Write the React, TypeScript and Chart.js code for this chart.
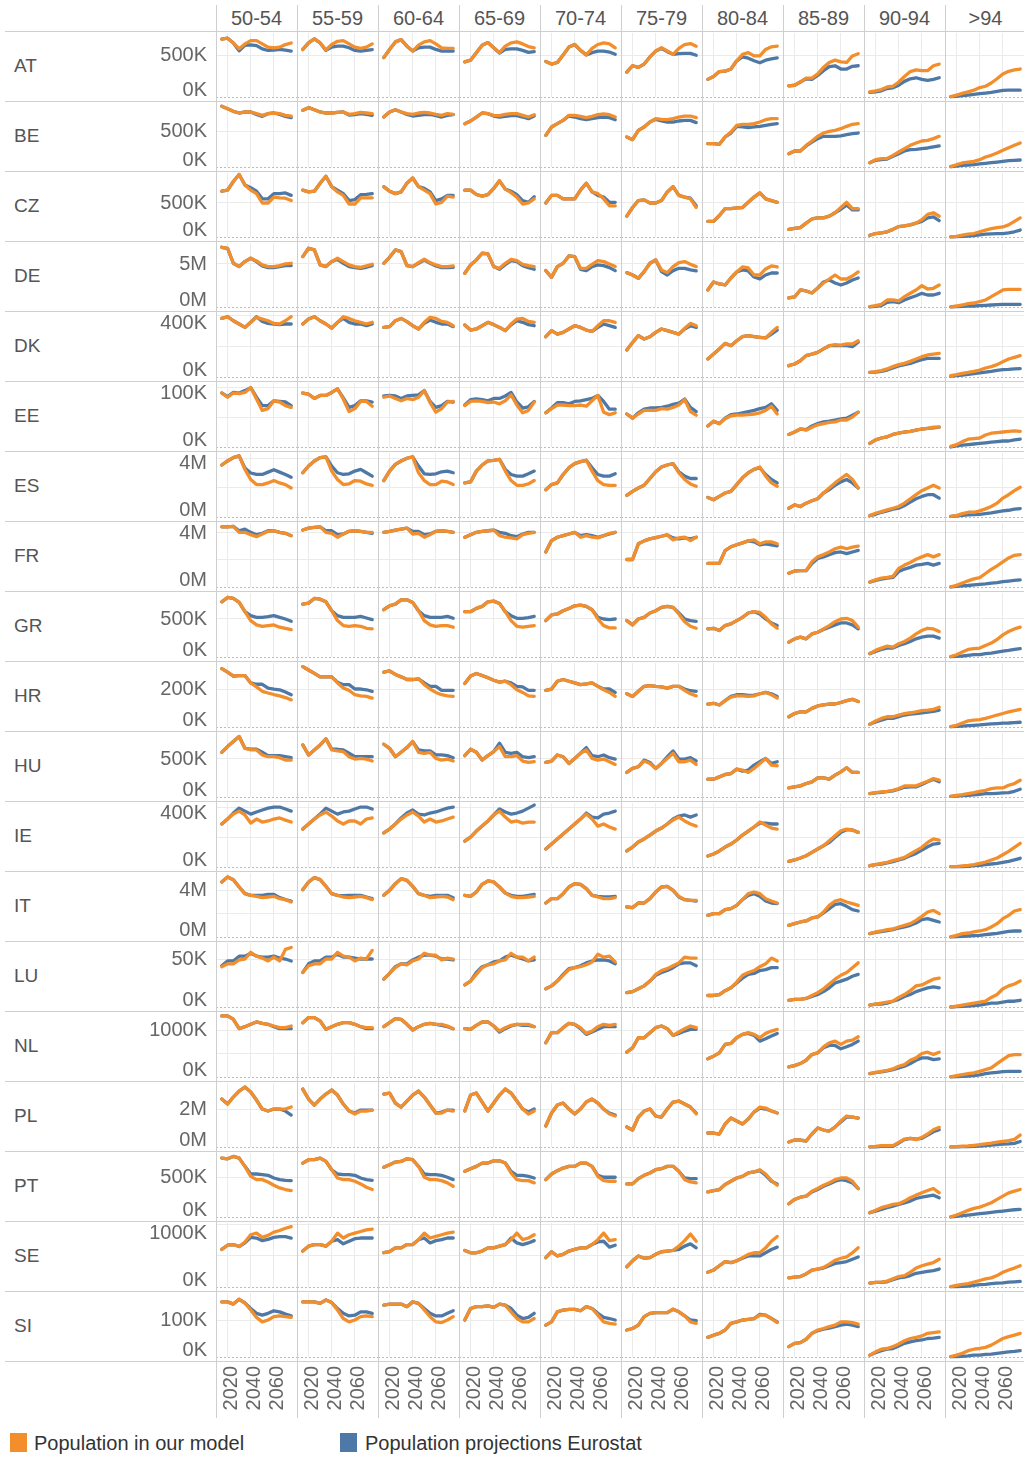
import React, { useEffect, useRef } from 'react';
import { Chart, registerables } from 'chart.js';

Chart.register(...registerables);

// ---------------- data (population, thousands) ----------------
const years = [2015, 2020, 2025, 2030, 2035, 2040, 2045, 2050, 2055, 2060, 2065, 2070, 2075];
const xTickYears = [2020, 2040, 2060];
const ageGroups = ['50-54', '55-59', '60-64', '65-69', '70-74', '75-79', '80-84', '85-89', '90-94', '>94'];
const countries = ['AT', 'BE', 'CZ', 'DE', 'DK', 'EE', 'ES', 'FR', 'GR', 'HR', 'HU', 'IE', 'IT', 'LU', 'NL', 'PL', 'PT', 'SE', 'SI'];
const seriesNames = ['Population in our model', 'Population projections Eurostat'];
const axisMax = [762, 889, 941, 7440, 413, 106.7, 4410, 4740, 842, 337, 842, 427, 5490, 66.7, 1362, 3370, 820, 1031, 173];
const axisStep = [500, 500, 500, 5000, 200, 50, 2000, 2000, 500, 200, 500, 200, 2000, 50, 500, 2000, 500, 500, 100];
const axisUnit = ['K', 'K', 'K', 'M', 'K', 'K', 'M', 'M', 'K', 'K', 'K', 'K', 'M', 'K', 'K', 'M', 'K', 'K', 'K'];

const AT_model = [
  [690, 700, 643, 574, 632, 671, 671, 632, 593, 585, 593, 624, 643],
  [566, 644, 691, 644, 559, 625, 663, 671, 632, 594, 578, 594, 632],
  [469, 566, 656, 683, 605, 547, 617, 656, 671, 632, 586, 578, 578],
  [419, 438, 528, 617, 648, 586, 528, 605, 644, 656, 632, 601, 586],
  [423, 392, 411, 501, 594, 625, 555, 501, 578, 625, 644, 632, 586],
  [295, 372, 353, 392, 477, 547, 586, 547, 508, 578, 625, 636, 605],
  [210, 244, 303, 307, 334, 431, 508, 528, 489, 489, 566, 598, 605],
  [132, 140, 178, 225, 225, 276, 353, 411, 439, 419, 411, 489, 516],
  [62, 74, 89, 120, 128, 178, 244, 303, 322, 314, 314, 372, 392],
  [4, 23, 43, 62, 81, 112, 128, 167, 217, 275, 306, 322, 333],
];
const AT_eurostat = [
  [690, 700, 643, 550, 616, 620, 612, 573, 554, 558, 566, 558, 547],
  [566, 644, 691, 644, 555, 594, 605, 605, 586, 555, 547, 555, 563],
  [469, 566, 656, 683, 605, 547, 586, 594, 594, 566, 547, 547, 547],
  [419, 438, 528, 617, 648, 586, 524, 566, 574, 574, 555, 532, 539],
  [423, 392, 411, 501, 594, 625, 555, 501, 528, 547, 547, 535, 508],
  [295, 372, 353, 392, 477, 547, 578, 540, 508, 516, 520, 520, 497],
  [210, 244, 303, 307, 334, 431, 477, 462, 431, 407, 438, 454, 465],
  [132, 140, 178, 217, 209, 256, 314, 361, 372, 333, 333, 365, 372],
  [54, 62, 74, 101, 109, 140, 186, 217, 229, 209, 198, 209, 229],
  [4, 8, 16, 23, 31, 39, 47, 54, 66, 78, 81, 81, 81],
];
const BE_model = [
  [843, 810, 773, 750, 764, 764, 741, 718, 741, 750, 741, 718, 708],
  [787, 824, 796, 764, 750, 750, 759, 764, 731, 741, 759, 750, 741],
  [694, 764, 796, 764, 741, 731, 750, 759, 750, 731, 718, 741, 731],
  [602, 639, 694, 750, 741, 718, 713, 731, 741, 741, 718, 694, 727],
  [440, 556, 602, 648, 718, 718, 704, 685, 704, 727, 736, 727, 694],
  [417, 380, 509, 556, 625, 671, 662, 657, 671, 694, 708, 708, 685],
  [324, 324, 315, 417, 486, 579, 593, 593, 602, 625, 657, 671, 671],
  [185, 222, 222, 301, 361, 426, 472, 495, 509, 532, 565, 593, 602],
  [60, 102, 116, 120, 162, 208, 255, 301, 333, 361, 370, 394, 426],
  [5, 32, 56, 69, 79, 102, 139, 162, 194, 231, 268, 301, 333],
];
const BE_eurostat = [
  [843, 810, 773, 750, 764, 764, 731, 704, 741, 750, 731, 704, 685],
  [787, 824, 796, 764, 750, 750, 759, 764, 722, 727, 741, 731, 718],
  [694, 764, 796, 764, 731, 708, 718, 727, 731, 713, 694, 718, 727],
  [602, 639, 694, 750, 741, 708, 694, 704, 713, 713, 694, 671, 708],
  [440, 556, 602, 648, 708, 694, 671, 657, 671, 685, 694, 685, 657],
  [417, 380, 509, 556, 625, 662, 639, 625, 625, 639, 648, 648, 616],
  [324, 324, 315, 417, 472, 565, 556, 546, 556, 565, 579, 593, 602],
  [185, 222, 222, 292, 347, 394, 426, 426, 426, 431, 449, 463, 472],
  [60, 93, 102, 111, 148, 185, 222, 241, 245, 255, 264, 278, 292],
  [5, 14, 23, 28, 32, 42, 51, 60, 69, 79, 88, 93, 97],
];
const CZ_model = [
  [673, 689, 816, 918, 765, 689, 638, 500, 500, 587, 576, 571, 536],
  [689, 663, 673, 791, 893, 740, 663, 612, 485, 485, 576, 576, 576],
  [740, 673, 638, 663, 791, 867, 740, 689, 638, 485, 510, 602, 587],
  [689, 689, 625, 602, 622, 714, 826, 704, 653, 587, 485, 500, 561],
  [500, 612, 612, 561, 561, 561, 689, 791, 663, 638, 561, 459, 459],
  [306, 434, 536, 546, 500, 500, 536, 663, 740, 612, 587, 561, 434],
  [230, 230, 316, 418, 418, 429, 434, 510, 587, 648, 561, 536, 510],
  [112, 128, 138, 204, 265, 281, 281, 306, 357, 434, 510, 418, 418],
  [26, 51, 61, 77, 112, 153, 163, 179, 204, 255, 332, 357, 306],
  [3, 10, 26, 41, 51, 77, 102, 122, 138, 148, 179, 230, 281],
];
const CZ_eurostat = [
  [673, 689, 816, 918, 765, 724, 673, 561, 561, 638, 638, 648, 612],
  [689, 663, 673, 791, 893, 740, 689, 638, 536, 551, 622, 627, 638],
  [740, 673, 638, 663, 791, 867, 740, 714, 663, 536, 561, 612, 612],
  [689, 689, 625, 602, 622, 714, 826, 704, 673, 622, 536, 510, 592],
  [500, 612, 612, 561, 561, 561, 689, 791, 663, 612, 587, 510, 510],
  [306, 434, 536, 546, 500, 500, 536, 663, 740, 612, 587, 571, 459],
  [230, 230, 316, 418, 418, 429, 434, 510, 587, 648, 561, 536, 510],
  [112, 128, 138, 204, 265, 281, 281, 306, 357, 408, 469, 398, 398],
  [26, 51, 61, 77, 112, 153, 163, 179, 204, 230, 281, 296, 240],
  [3, 5, 10, 15, 20, 31, 41, 46, 51, 51, 61, 77, 102],
];
const DE_model = [
  [6945, 6829, 5083, 4695, 5277, 5665, 5354, 4889, 4695, 4695, 4811, 5005, 5083],
  [5859, 6829, 6635, 4889, 4695, 5277, 5665, 5277, 4889, 4695, 4617, 4772, 4966],
  [5083, 5781, 6635, 6441, 4811, 4695, 5160, 5548, 5160, 4889, 4695, 4695, 4772],
  [3919, 4889, 5470, 6247, 6169, 4695, 4500, 5083, 5548, 5393, 4966, 4811, 4695],
  [4229, 3453, 4695, 5083, 5936, 5859, 4500, 4500, 4966, 5393, 5277, 5005, 4695],
  [3996, 3725, 3337, 4113, 5083, 5470, 4307, 3996, 4695, 5160, 5277, 4966, 4695],
  [1977, 2908, 2675, 2559, 3373, 4071, 4652, 4536, 3722, 3722, 4420, 4768, 4652],
  [1047, 1163, 1977, 1861, 1628, 2210, 2791, 3256, 3722, 3256, 3256, 3605, 4071],
  [35, 151, 314, 814, 814, 698, 1198, 1593, 1977, 2477, 2093, 2175, 2559],
  [20, 116, 233, 388, 466, 621, 815, 1203, 1591, 1979, 2056, 2056, 2056],
];
const DE_eurostat = [
  [6945, 6829, 5083, 4695, 5277, 5665, 5277, 4772, 4578, 4578, 4695, 4811, 4811],
  [5859, 6829, 6635, 4889, 4695, 5277, 5548, 5083, 4695, 4578, 4500, 4617, 4811],
  [5083, 5781, 6635, 6441, 4811, 4695, 5083, 5470, 5083, 4772, 4578, 4578, 4617],
  [3919, 4889, 5470, 6247, 6169, 4695, 4384, 4927, 5393, 5277, 4811, 4578, 4384],
  [4229, 3453, 4695, 5083, 5936, 5859, 4384, 4229, 4695, 4889, 4811, 4578, 4229],
  [3996, 3725, 3337, 4113, 5083, 5470, 4113, 3725, 4229, 4500, 4500, 4307, 4190],
  [1977, 2908, 2675, 2559, 3373, 4071, 4303, 4187, 3489, 3256, 3722, 3954, 3954],
  [1047, 1163, 1977, 1861, 1628, 2210, 2908, 3140, 2791, 2559, 2791, 3140, 3373],
  [20, 81, 151, 547, 616, 500, 814, 1082, 1314, 1593, 1396, 1396, 1593],
  [20, 39, 78, 116, 116, 155, 194, 233, 272, 310, 310, 310, 310],
];
const DK_model = [
  [378, 389, 363, 342, 320, 353, 385, 374, 363, 346, 342, 363, 389],
  [342, 374, 389, 363, 342, 316, 353, 389, 378, 363, 353, 342, 353],
  [320, 325, 363, 378, 357, 331, 310, 353, 385, 378, 359, 353, 331],
  [336, 303, 310, 331, 353, 338, 320, 299, 342, 374, 378, 359, 353],
  [260, 299, 277, 288, 310, 331, 320, 303, 294, 331, 363, 363, 353],
  [174, 223, 267, 245, 260, 288, 310, 299, 288, 277, 314, 346, 331],
  [116, 148, 181, 217, 202, 234, 260, 267, 260, 256, 252, 288, 320],
  [73, 84, 105, 138, 148, 159, 181, 202, 209, 206, 213, 213, 234],
  [30, 34, 41, 52, 67, 80, 88, 101, 116, 131, 142, 148, 153],
  [9, 15, 24, 30, 37, 45, 58, 67, 80, 99, 116, 127, 138],
];
const DK_eurostat = [
  [378, 389, 363, 342, 320, 353, 389, 359, 346, 342, 338, 342, 342],
  [342, 374, 389, 363, 342, 316, 353, 378, 353, 342, 342, 331, 342],
  [320, 325, 363, 378, 357, 331, 310, 346, 368, 353, 342, 342, 325],
  [336, 303, 310, 331, 353, 338, 320, 299, 336, 363, 353, 338, 331],
  [260, 299, 277, 288, 310, 331, 320, 303, 294, 320, 342, 331, 320],
  [174, 223, 267, 245, 260, 288, 310, 299, 288, 277, 310, 331, 320],
  [116, 148, 181, 217, 202, 234, 260, 267, 260, 256, 252, 277, 303],
  [73, 84, 105, 138, 148, 159, 181, 202, 202, 202, 202, 196, 224],
  [30, 32, 37, 45, 58, 71, 80, 88, 101, 112, 120, 120, 120],
  [6, 9, 13, 17, 22, 26, 32, 37, 43, 47, 49, 52, 54],
];
const EE_model = [
  [90, 83, 90, 89, 91, 99, 80, 61, 64, 77, 75, 69, 66],
  [90, 88, 81, 86, 86, 91, 97, 80, 59, 64, 76, 76, 68],
  [83, 85, 81, 77, 81, 79, 83, 94, 74, 58, 64, 75, 76],
  [69, 76, 77, 76, 74, 75, 72, 77, 87, 70, 57, 61, 75],
  [57, 64, 70, 70, 69, 69, 70, 68, 77, 86, 58, 54, 57],
  [55, 48, 55, 61, 61, 61, 64, 63, 66, 70, 79, 59, 53],
  [35, 43, 39, 47, 52, 53, 53, 54, 55, 57, 61, 68, 55],
  [21, 25, 30, 28, 33, 37, 39, 41, 42, 45, 45, 50, 58],
  [6, 12, 15, 17, 21, 23, 25, 26, 28, 30, 31, 33, 33],
  [1, 4, 9, 13, 14, 15, 20, 23, 24, 25, 26, 27, 26],
];
const EE_eurostat = [
  [90, 84, 91, 90, 94, 99, 83, 69, 69, 77, 76, 75, 69],
  [90, 88, 81, 86, 86, 91, 97, 82, 66, 69, 77, 77, 75],
  [85, 86, 85, 81, 85, 86, 87, 94, 76, 66, 69, 76, 75],
  [70, 79, 80, 79, 77, 81, 81, 85, 91, 75, 65, 67, 76],
  [57, 65, 74, 74, 72, 76, 77, 79, 81, 86, 76, 63, 63],
  [55, 48, 57, 63, 65, 65, 66, 68, 71, 73, 80, 66, 59],
  [35, 43, 39, 48, 54, 55, 57, 59, 61, 64, 66, 72, 61],
  [21, 25, 30, 29, 35, 39, 42, 43, 45, 47, 48, 53, 58],
  [6, 12, 15, 17, 21, 23, 25, 26, 28, 30, 31, 32, 33],
  [0, 2, 3, 4, 5, 6, 7, 8, 9, 10, 10, 12, 13],
];
const ES_model = [
  [3582, 3861, 4094, 4210, 3280, 2582, 2233, 2233, 2349, 2512, 2349, 2233, 2000],
  [3047, 3512, 3861, 4094, 4140, 3163, 2582, 2233, 2279, 2512, 2466, 2279, 2186],
  [2512, 3163, 3629, 3861, 4047, 4140, 3047, 2512, 2233, 2233, 2466, 2419, 2233],
  [2349, 2419, 3163, 3582, 3861, 3908, 3977, 3163, 2512, 2186, 2186, 2279, 2512],
  [1884, 2233, 2349, 2931, 3396, 3675, 3815, 3908, 3163, 2512, 2233, 2186, 2186],
  [1489, 1768, 2000, 2186, 2652, 3117, 3443, 3582, 3675, 3047, 2582, 2279, 2117],
  [1349, 1187, 1419, 1652, 1768, 2233, 2698, 3047, 3280, 3443, 2815, 2349, 2117],
  [605, 837, 721, 954, 1117, 1256, 1652, 2000, 2349, 2652, 2931, 2582, 2000],
  [93, 256, 372, 488, 605, 721, 954, 1256, 1535, 1814, 2000, 2186, 2000],
  [47, 93, 233, 326, 326, 419, 558, 721, 954, 1303, 1535, 1814, 2047],
];
const ES_eurostat = [
  [3582, 3861, 4094, 4210, 3373, 3032, 2931, 2931, 3094, 3257, 3094, 2931, 2745],
  [3047, 3512, 3861, 4094, 4140, 3512, 3047, 2931, 2977, 3163, 3280, 3047, 2815],
  [2512, 3163, 3629, 3861, 4047, 4140, 3512, 2977, 2931, 2977, 3117, 3163, 3047],
  [2349, 2419, 3163, 3582, 3861, 3908, 3977, 3280, 2931, 2815, 2815, 2977, 3163],
  [1884, 2233, 2349, 2931, 3396, 3675, 3815, 3908, 3396, 2931, 2815, 2815, 2977],
  [1489, 1768, 2000, 2186, 2652, 3117, 3443, 3582, 3675, 3117, 2815, 2652, 2652],
  [1349, 1187, 1419, 1652, 1768, 2233, 2698, 3047, 3280, 3396, 2931, 2582, 2349],
  [605, 837, 721, 954, 1117, 1256, 1652, 1884, 2186, 2419, 2582, 2349, 2000],
  [93, 186, 326, 419, 535, 605, 791, 1024, 1256, 1419, 1535, 1535, 1303],
  [47, 70, 116, 140, 163, 186, 233, 279, 349, 419, 465, 535, 582],
];
const FR_model = [
  [4457, 4457, 4486, 4049, 4049, 3875, 3730, 3926, 4122, 4166, 4049, 3977, 3802],
  [4217, 4362, 4413, 4457, 4049, 3977, 3686, 3926, 4122, 4166, 4122, 4049, 4049],
  [4049, 4122, 4217, 4289, 4362, 3926, 3977, 3686, 3875, 4122, 4166, 4122, 4049],
  [3686, 3875, 4049, 4122, 4166, 4217, 3802, 3686, 3635, 3562, 3875, 3977, 4049],
  [2595, 3439, 3686, 3802, 3926, 4049, 3686, 3802, 3686, 3635, 3802, 3977, 4049],
  [2036, 2036, 3199, 3417, 3562, 3657, 3758, 3853, 3490, 3635, 3686, 3439, 3686],
  [1745, 1745, 1745, 2690, 2981, 3126, 3272, 3417, 3490, 3199, 3344, 3344, 3199],
  [1018, 1185, 1214, 1214, 1868, 2232, 2399, 2595, 2835, 2959, 2835, 2959, 3032],
  [364, 531, 654, 705, 778, 1381, 1621, 1818, 2057, 2232, 2399, 2232, 2399],
  [10, 120, 300, 450, 600, 700, 1000, 1300, 1570, 1860, 2150, 2350, 2400],
];
const FR_eurostat = [
  [4457, 4457, 4486, 4166, 4289, 4049, 3875, 3977, 4166, 4166, 4049, 3977, 3802],
  [4217, 4362, 4413, 4457, 4166, 4166, 3875, 3926, 4122, 4166, 4122, 4049, 3977],
  [4049, 4122, 4217, 4289, 4362, 4122, 4122, 3875, 3926, 4122, 4166, 4122, 4049],
  [3686, 3875, 4049, 4122, 4166, 4217, 4049, 3977, 3802, 3730, 3926, 4049, 4049],
  [2595, 3439, 3686, 3802, 3926, 4049, 3802, 3875, 3802, 3686, 3802, 3926, 4049],
  [2036, 2036, 3199, 3417, 3562, 3657, 3758, 3853, 3635, 3562, 3635, 3562, 3686],
  [1745, 1745, 1745, 2690, 2981, 3126, 3272, 3417, 3344, 3126, 3199, 3126, 3054],
  [1018, 1185, 1214, 1214, 1745, 2108, 2232, 2399, 2545, 2595, 2472, 2595, 2712],
  [364, 487, 582, 654, 705, 1141, 1330, 1454, 1621, 1672, 1745, 1621, 1745],
  [10, 40, 80, 110, 150, 190, 230, 280, 330, 390, 440, 490, 530],
];
const GR_model = [
  [726, 783, 770, 718, 596, 479, 422, 404, 413, 422, 392, 378, 361],
  [696, 709, 770, 761, 726, 609, 479, 413, 404, 413, 404, 378, 370],
  [622, 674, 696, 752, 752, 718, 609, 479, 422, 404, 413, 413, 392],
  [596, 596, 639, 666, 726, 735, 705, 596, 479, 404, 392, 404, 413],
  [479, 553, 566, 609, 639, 674, 683, 666, 622, 500, 413, 383, 383],
  [479, 422, 500, 522, 579, 609, 653, 666, 653, 566, 465, 404, 378],
  [370, 378, 348, 413, 435, 479, 522, 579, 596, 587, 522, 435, 378],
  [196, 239, 261, 239, 304, 326, 370, 413, 465, 500, 509, 479, 392],
  [44, 87, 117, 143, 130, 174, 204, 248, 304, 348, 378, 370, 335],
  [5, 30, 65, 100, 109, 117, 152, 183, 230, 291, 335, 370, 392],
];
const GR_eurostat = [
  [726, 783, 770, 718, 596, 544, 522, 522, 530, 544, 522, 500, 470],
  [696, 709, 770, 761, 726, 609, 544, 522, 522, 522, 535, 513, 492],
  [622, 674, 696, 752, 752, 718, 609, 544, 522, 522, 522, 535, 509],
  [596, 596, 639, 666, 726, 735, 705, 596, 544, 509, 509, 518, 535],
  [479, 553, 566, 609, 639, 674, 683, 666, 622, 522, 500, 492, 500],
  [479, 422, 500, 522, 579, 609, 653, 666, 653, 579, 500, 478, 470],
  [370, 378, 348, 413, 435, 479, 522, 579, 596, 566, 500, 448, 413],
  [196, 239, 261, 239, 304, 326, 361, 392, 422, 448, 448, 422, 370],
  [44, 74, 100, 117, 117, 152, 174, 204, 239, 261, 274, 274, 248],
  [5, 9, 13, 22, 30, 30, 44, 52, 65, 78, 87, 100, 109],
];
const HR_model = [
  [307, 289, 268, 271, 271, 232, 211, 188, 179, 171, 164, 155, 143],
  [318, 300, 282, 264, 264, 264, 232, 205, 193, 170, 164, 161, 152],
  [289, 295, 277, 264, 250, 250, 254, 223, 200, 182, 170, 164, 161],
  [229, 268, 282, 271, 259, 246, 236, 241, 223, 196, 182, 164, 161],
  [193, 200, 241, 250, 241, 232, 223, 227, 232, 214, 196, 182, 161],
  [175, 161, 188, 214, 218, 214, 211, 205, 214, 214, 193, 175, 164],
  [121, 125, 116, 139, 157, 164, 164, 161, 164, 175, 182, 170, 152],
  [54, 71, 80, 80, 98, 111, 116, 121, 121, 129, 139, 146, 134],
  [14, 32, 45, 54, 54, 63, 71, 75, 80, 86, 89, 93, 104],
  [2, 9, 21, 32, 36, 39, 45, 54, 63, 71, 80, 86, 93],
];
const HR_eurostat = [
  [307, 289, 268, 271, 271, 232, 225, 225, 205, 200, 196, 184, 170],
  [318, 300, 282, 264, 264, 264, 236, 223, 223, 200, 200, 196, 188],
  [289, 295, 277, 264, 250, 250, 254, 232, 214, 214, 193, 193, 193],
  [229, 268, 282, 271, 259, 246, 236, 241, 232, 214, 211, 193, 193],
  [193, 200, 241, 250, 241, 232, 223, 227, 232, 214, 200, 200, 182],
  [175, 161, 188, 214, 218, 214, 211, 205, 214, 214, 200, 191, 188],
  [121, 125, 116, 139, 161, 170, 170, 166, 168, 175, 182, 175, 161],
  [54, 71, 80, 80, 98, 111, 116, 121, 121, 129, 139, 146, 134],
  [14, 27, 36, 45, 45, 54, 63, 68, 71, 75, 79, 82, 89],
  [2, 4, 5, 7, 9, 11, 14, 16, 18, 20, 21, 23, 25],
];
const HU_model = [
  [588, 663, 729, 796, 641, 619, 619, 553, 530, 530, 517, 486, 486],
  [685, 553, 619, 685, 765, 619, 606, 597, 530, 499, 508, 499, 473],
  [694, 641, 530, 588, 650, 729, 588, 575, 588, 508, 486, 499, 473],
  [544, 628, 588, 486, 544, 597, 663, 530, 530, 544, 473, 455, 464],
  [455, 473, 553, 530, 442, 508, 575, 619, 508, 486, 499, 464, 429],
  [323, 376, 398, 473, 442, 376, 442, 508, 575, 464, 464, 486, 429],
  [234, 234, 265, 296, 309, 367, 354, 323, 376, 442, 508, 420, 411],
  [119, 133, 146, 177, 199, 252, 252, 234, 287, 331, 385, 323, 323],
  [44, 57, 66, 75, 88, 111, 146, 146, 146, 177, 208, 243, 221],
  [9, 22, 31, 44, 57, 75, 88, 111, 119, 119, 155, 177, 221],
];
const HU_eurostat = [
  [588, 663, 729, 796, 641, 630, 630, 588, 544, 544, 544, 530, 517],
  [685, 553, 619, 685, 765, 630, 628, 619, 575, 530, 530, 530, 530],
  [694, 641, 530, 588, 650, 729, 619, 606, 606, 553, 553, 544, 517],
  [544, 628, 588, 486, 544, 597, 707, 588, 575, 588, 530, 517, 530],
  [455, 473, 553, 530, 442, 508, 575, 650, 544, 530, 553, 517, 499],
  [323, 376, 398, 486, 455, 376, 442, 530, 606, 499, 499, 517, 473],
  [234, 234, 265, 296, 309, 367, 341, 354, 420, 464, 508, 442, 464],
  [119, 133, 146, 177, 199, 252, 252, 234, 287, 331, 385, 323, 323],
  [44, 53, 62, 71, 80, 102, 128, 133, 133, 164, 199, 234, 199],
  [9, 13, 18, 22, 27, 35, 44, 44, 49, 53, 57, 75, 102],
];
const IE_model = [
  [287, 320, 353, 373, 347, 293, 320, 300, 307, 320, 327, 313, 300],
  [253, 287, 320, 347, 367, 340, 307, 287, 307, 307, 287, 320, 327],
  [227, 253, 287, 320, 347, 367, 340, 300, 320, 300, 307, 320, 333],
  [173, 200, 240, 273, 307, 347, 373, 333, 300, 307, 293, 300, 300],
  [120, 153, 187, 220, 253, 287, 320, 353, 320, 273, 287, 267, 253],
  [107, 133, 167, 187, 213, 240, 260, 287, 313, 333, 307, 287, 273],
  [73, 87, 107, 133, 153, 180, 213, 240, 267, 300, 280, 260, 253],
  [38, 47, 60, 75, 98, 120, 142, 175, 209, 242, 253, 247, 231],
  [9, 16, 24, 31, 42, 53, 64, 87, 109, 131, 164, 187, 180],
  [2, 2, 7, 11, 16, 24, 33, 47, 60, 82, 104, 131, 158],
];
const IE_eurostat = [
  [287, 320, 360, 393, 373, 353, 367, 380, 393, 400, 400, 387, 373],
  [253, 287, 320, 353, 393, 373, 353, 367, 373, 387, 400, 400, 387],
  [227, 253, 287, 327, 360, 380, 353, 347, 360, 367, 380, 393, 400],
  [173, 200, 240, 273, 307, 347, 387, 367, 353, 360, 373, 393, 413],
  [120, 153, 187, 220, 253, 287, 320, 360, 333, 327, 353, 360, 373],
  [107, 133, 167, 187, 213, 240, 260, 287, 320, 340, 347, 333, 347],
  [73, 87, 107, 133, 153, 180, 213, 240, 267, 293, 293, 287, 287],
  [38, 47, 60, 75, 98, 120, 142, 164, 198, 231, 249, 247, 231],
  [9, 16, 20, 27, 36, 47, 58, 76, 91, 113, 135, 153, 158],
  [2, 2, 2, 4, 9, 11, 16, 20, 24, 31, 38, 47, 58],
];
const IT_model = [
  [4719, 5148, 4919, 4290, 3718, 3575, 3489, 3375, 3432, 3489, 3289, 3203, 3003],
  [4061, 4719, 5091, 4919, 4347, 3718, 3575, 3432, 3375, 3432, 3489, 3375, 3203],
  [3575, 4004, 4576, 5005, 4862, 4347, 3718, 3575, 3375, 3432, 3489, 3432, 3203],
  [3575, 3489, 3861, 4519, 4805, 4719, 4290, 3775, 3489, 3375, 3375, 3432, 3489],
  [2917, 3289, 3289, 3718, 4290, 4576, 4519, 4147, 3575, 3432, 3289, 3289, 3375],
  [2574, 2517, 2917, 2917, 3289, 3861, 4290, 4347, 4004, 3489, 3203, 3146, 3146],
  [1859, 2002, 2002, 2345, 2431, 2717, 3203, 3718, 3861, 3718, 3289, 3089, 2917],
  [1001, 1144, 1287, 1373, 1630, 1716, 2145, 2717, 3089, 3203, 3003, 2860, 2717],
  [286, 429, 515, 629, 686, 858, 1001, 1144, 1430, 1773, 2145, 2288, 2002],
  [10, 143, 286, 343, 429, 515, 629, 858, 1144, 1573, 1859, 2231, 2345],
];
const IT_eurostat = [
  [4719, 5148, 4919, 4290, 3718, 3575, 3575, 3575, 3661, 3661, 3375, 3203, 3089],
  [4061, 4719, 5091, 4919, 4347, 3718, 3575, 3546, 3575, 3575, 3575, 3432, 3289],
  [3575, 4004, 4576, 5005, 4862, 4347, 3718, 3575, 3489, 3575, 3575, 3575, 3375],
  [3575, 3489, 3861, 4519, 4805, 4719, 4290, 3775, 3575, 3489, 3489, 3575, 3661],
  [2917, 3289, 3289, 3718, 4290, 4576, 4519, 4147, 3575, 3489, 3432, 3432, 3489],
  [2574, 2517, 2917, 2917, 3289, 3861, 4290, 4347, 4004, 3432, 3203, 3146, 3089],
  [1859, 2002, 2002, 2345, 2431, 2717, 3203, 3575, 3718, 3489, 3089, 2917, 2860],
  [1001, 1144, 1287, 1373, 1630, 1716, 2059, 2431, 2803, 2860, 2631, 2345, 2231],
  [286, 400, 458, 543, 629, 772, 858, 1001, 1201, 1487, 1573, 1430, 1287],
  [10, 29, 57, 86, 114, 143, 200, 257, 315, 400, 486, 515, 515],
];
const LU_model = [
  [42, 45, 45, 49, 50, 57, 53, 51, 48, 52, 48, 60, 62],
  [36, 43, 45, 45, 50, 50, 57, 53, 52, 48, 51, 50, 59],
  [29, 35, 41, 45, 44, 48, 50, 56, 54, 54, 49, 51, 50],
  [23, 27, 34, 41, 44, 45, 48, 49, 56, 52, 52, 48, 52],
  [19, 22, 27, 33, 39, 41, 42, 44, 47, 55, 52, 53, 47],
  [15, 16, 19, 22, 27, 34, 38, 40, 43, 46, 52, 51, 51],
  [12, 12, 13, 17, 20, 26, 33, 36, 38, 42, 45, 51, 48],
  [7, 8, 8, 9, 12, 15, 19, 24, 29, 33, 36, 41, 46],
  [2, 3, 4, 5, 6, 10, 13, 17, 22, 23, 26, 29, 30],
  [0, 1, 2, 3, 4, 5, 6, 10, 13, 19, 22, 24, 27],
];
const LU_eurostat = [
  [43, 48, 48, 53, 53, 56, 53, 52, 52, 53, 51, 50, 48],
  [36, 45, 48, 48, 52, 52, 55, 52, 52, 51, 50, 50, 50],
  [29, 35, 42, 45, 45, 49, 52, 54, 54, 53, 50, 50, 49],
  [23, 27, 36, 42, 44, 47, 48, 52, 54, 52, 50, 48, 49],
  [19, 22, 27, 34, 40, 41, 43, 46, 48, 49, 49, 48, 45],
  [15, 16, 19, 22, 27, 33, 36, 38, 41, 45, 46, 46, 43],
  [12, 12, 13, 17, 20, 25, 30, 34, 35, 38, 39, 41, 41],
  [7, 8, 8, 9, 11, 13, 16, 20, 25, 27, 29, 32, 34],
  [2, 3, 3, 4, 6, 8, 11, 13, 16, 18, 20, 21, 20],
  [0, 0.4, 0.7, 1, 1.4, 2, 3, 4, 4, 5, 6, 6, 7],
];
const NL_model = [
  [1300, 1300, 1228, 1028, 1071, 1121, 1171, 1143, 1121, 1085, 1050, 1050, 1085],
  [1157, 1264, 1264, 1192, 1014, 1071, 1121, 1157, 1157, 1121, 1071, 1050, 1050],
  [1071, 1157, 1242, 1228, 1121, 1000, 1071, 1121, 1143, 1121, 1121, 1085, 1028],
  [1028, 1014, 1100, 1171, 1171, 1085, 978, 1050, 1100, 1121, 1121, 1121, 1071],
  [728, 943, 943, 1050, 1143, 1121, 1050, 928, 978, 1071, 1121, 1100, 1121],
  [528, 621, 835, 835, 943, 1050, 1085, 1028, 885, 957, 1028, 1085, 1050],
  [386, 443, 514, 693, 714, 835, 907, 943, 907, 835, 928, 978, 1014],
  [214, 243, 286, 357, 478, 514, 643, 728, 764, 693, 764, 785, 857],
  [71, 100, 121, 143, 171, 228, 264, 357, 407, 500, 528, 478, 528],
  [5, 29, 50, 71, 86, 121, 157, 193, 286, 371, 457, 478, 478],
];
const NL_eurostat = [
  [1300, 1300, 1228, 1028, 1071, 1121, 1171, 1143, 1121, 1071, 1028, 1028, 1028],
  [1157, 1264, 1264, 1192, 1014, 1071, 1121, 1157, 1157, 1121, 1071, 1028, 1028],
  [1071, 1157, 1242, 1228, 1121, 1000, 1071, 1121, 1143, 1121, 1100, 1071, 1028],
  [1028, 1014, 1100, 1171, 1171, 1085, 957, 1028, 1085, 1121, 1100, 1100, 1071],
  [728, 943, 943, 1050, 1143, 1121, 1028, 907, 957, 1014, 1071, 1071, 1071],
  [528, 621, 835, 835, 943, 1050, 1085, 1028, 885, 928, 978, 1014, 1014],
  [386, 443, 514, 693, 714, 835, 907, 928, 885, 764, 814, 871, 928],
  [214, 243, 286, 357, 478, 514, 621, 671, 671, 600, 643, 693, 764],
  [71, 93, 107, 128, 157, 193, 228, 286, 357, 407, 407, 371, 386],
  [5, 7, 14, 21, 29, 43, 71, 86, 100, 114, 121, 121, 121],
];
const PL_model = [
  [2525, 2262, 2630, 2946, 3156, 2893, 2472, 1999, 1894, 1999, 1999, 1999, 2104],
  [3051, 2525, 2209, 2525, 2788, 2998, 2735, 2262, 1894, 1736, 1894, 1894, 1946],
  [2788, 2841, 2314, 2104, 2420, 2735, 2946, 2630, 2209, 1788, 1788, 1946, 1894],
  [1894, 2735, 2841, 2367, 1894, 2314, 2735, 3051, 2841, 2420, 1999, 1736, 1894],
  [1105, 1788, 2209, 2314, 1999, 1736, 1999, 2367, 2525, 2314, 1999, 1736, 1631],
  [1052, 894, 1578, 1894, 1999, 1631, 1578, 1999, 2367, 2420, 2262, 2104, 1736],
  [736, 736, 684, 1210, 1525, 1368, 1210, 1473, 1841, 2104, 2051, 1894, 1788],
  [263, 368, 368, 316, 684, 999, 894, 842, 1052, 1368, 1631, 1578, 1525],
  [9, 35, 70, 70, 70, 245, 420, 455, 385, 508, 683, 910, 1033],
  [5, 20, 40, 60, 90, 120, 170, 210, 260, 300, 330, 400, 630],
];
const PL_eurostat = [
  [2525, 2262, 2630, 2946, 3156, 2893, 2472, 1999, 1894, 1999, 1999, 1894, 1683],
  [3051, 2525, 2209, 2525, 2788, 2998, 2735, 2262, 1894, 1788, 1946, 1946, 1946],
  [2788, 2841, 2314, 2104, 2420, 2735, 2946, 2630, 2209, 1788, 1841, 1946, 1946],
  [1894, 2735, 2841, 2367, 1894, 2314, 2735, 3051, 2841, 2420, 1999, 1841, 1999],
  [1105, 1788, 2209, 2314, 1999, 1736, 1999, 2367, 2525, 2314, 1999, 1788, 1683],
  [1052, 894, 1578, 1894, 1999, 1631, 1578, 1999, 2367, 2420, 2262, 2104, 1788],
  [736, 736, 684, 1210, 1525, 1368, 1210, 1473, 1841, 2051, 1999, 1894, 1788],
  [263, 368, 368, 316, 684, 999, 894, 842, 1052, 1315, 1578, 1578, 1525],
  [9, 10, 35, 35, 35, 210, 385, 455, 420, 455, 630, 805, 910],
  [5, 10, 15, 20, 30, 45, 70, 100, 130, 150, 160, 190, 290],
];
const PT_model = [
  [755, 746, 776, 755, 649, 521, 479, 479, 449, 407, 373, 352, 339],
  [691, 734, 734, 755, 712, 606, 500, 479, 479, 458, 424, 381, 352],
  [636, 670, 704, 712, 746, 734, 649, 509, 479, 479, 466, 437, 394],
  [585, 619, 649, 691, 691, 721, 721, 691, 564, 479, 466, 466, 437],
  [479, 551, 594, 627, 649, 649, 691, 691, 649, 521, 466, 458, 458],
  [424, 424, 492, 534, 564, 606, 619, 649, 649, 585, 479, 449, 437],
  [322, 339, 352, 416, 458, 500, 521, 564, 577, 606, 551, 466, 407],
  [170, 225, 254, 267, 331, 365, 407, 437, 479, 500, 500, 458, 365],
  [55, 85, 119, 140, 161, 170, 204, 246, 280, 310, 339, 365, 310],
  [2, 25, 55, 85, 110, 127, 153, 182, 225, 267, 310, 331, 352],
];
const PT_eurostat = [
  [755, 746, 776, 755, 649, 551, 551, 543, 534, 500, 479, 470, 466],
  [691, 734, 734, 755, 712, 606, 551, 543, 543, 534, 500, 479, 470],
  [636, 670, 704, 712, 746, 734, 649, 551, 543, 543, 534, 509, 479],
  [585, 619, 649, 691, 691, 721, 721, 691, 585, 534, 534, 521, 500],
  [479, 551, 594, 627, 649, 649, 691, 691, 649, 534, 509, 509, 509],
  [424, 424, 492, 534, 564, 606, 619, 649, 649, 585, 500, 492, 492],
  [322, 339, 352, 416, 458, 500, 521, 564, 577, 594, 534, 458, 424],
  [170, 225, 254, 267, 322, 352, 394, 424, 458, 479, 466, 437, 365],
  [55, 76, 98, 119, 140, 161, 182, 204, 237, 254, 267, 280, 246],
  [2, 8, 17, 25, 34, 42, 51, 59, 68, 76, 85, 93, 98],
];
const SE_model = [
  [605, 673, 684, 652, 726, 842, 868, 800, 831, 884, 910, 947, 973],
  [579, 658, 684, 684, 658, 737, 868, 789, 842, 868, 894, 921, 931],
  [552, 568, 631, 631, 684, 684, 763, 868, 789, 815, 842, 868, 884],
  [589, 552, 552, 579, 631, 631, 658, 684, 763, 868, 763, 789, 842],
  [473, 568, 500, 526, 579, 605, 631, 631, 684, 763, 868, 747, 763],
  [326, 421, 500, 463, 473, 526, 568, 579, 589, 658, 747, 852, 737],
  [237, 273, 342, 410, 394, 421, 473, 526, 552, 552, 631, 737, 815],
  [147, 158, 168, 210, 273, 289, 316, 368, 431, 463, 484, 552, 631],
  [63, 74, 79, 95, 131, 168, 184, 237, 305, 342, 368, 394, 447],
  [5, 26, 42, 53, 79, 105, 131, 147, 184, 237, 273, 305, 342],
];
const SE_eurostat = [
  [605, 673, 684, 652, 710, 800, 789, 747, 768, 800, 810, 810, 789],
  [579, 658, 684, 684, 658, 737, 763, 695, 737, 779, 789, 789, 789],
  [552, 568, 631, 631, 684, 684, 763, 789, 710, 747, 763, 789, 789],
  [589, 552, 552, 579, 631, 631, 658, 684, 789, 710, 684, 710, 747],
  [473, 568, 500, 526, 579, 605, 631, 631, 684, 726, 737, 642, 673],
  [326, 421, 500, 463, 473, 526, 568, 579, 589, 605, 658, 695, 631],
  [237, 273, 342, 410, 394, 421, 463, 500, 500, 500, 552, 605, 642],
  [147, 158, 168, 210, 273, 289, 305, 342, 379, 394, 410, 447, 484],
  [63, 74, 74, 84, 116, 147, 158, 184, 221, 237, 252, 263, 289],
  [5, 5, 10, 16, 26, 37, 42, 53, 63, 68, 79, 84, 89],
];
const SI_model = [
  [149, 149, 143, 156, 146, 127, 107, 95, 100, 109, 111, 109, 107],
  [149, 149, 149, 145, 154, 147, 127, 104, 95, 100, 109, 111, 109],
  [140, 143, 143, 143, 136, 149, 145, 127, 109, 95, 93, 100, 109],
  [100, 131, 136, 136, 138, 134, 143, 140, 122, 104, 95, 95, 104],
  [86, 95, 122, 127, 129, 129, 125, 136, 131, 113, 95, 91, 89],
  [73, 77, 86, 109, 118, 120, 120, 120, 129, 122, 111, 95, 91],
  [53, 59, 64, 73, 91, 95, 100, 102, 104, 113, 113, 104, 93],
  [28, 37, 39, 48, 64, 73, 77, 82, 86, 95, 95, 93, 89],
  [5, 14, 21, 23, 28, 35, 44, 50, 53, 57, 64, 66, 68],
  [1, 5, 10, 17, 21, 23, 26, 32, 41, 50, 55, 59, 64],
];
const SI_eurostat = [
  [149, 149, 143, 156, 146, 131, 118, 113, 118, 125, 122, 116, 111],
  [149, 149, 149, 145, 154, 147, 131, 118, 111, 113, 122, 122, 118],
  [140, 143, 143, 143, 136, 149, 145, 131, 118, 111, 111, 118, 125],
  [100, 131, 136, 136, 138, 134, 143, 140, 131, 113, 104, 107, 118],
  [86, 95, 122, 127, 129, 129, 125, 136, 131, 118, 107, 104, 100],
  [73, 77, 86, 109, 118, 120, 120, 120, 129, 122, 111, 100, 98],
  [53, 59, 64, 73, 91, 95, 100, 102, 104, 115, 113, 104, 95],
  [28, 37, 39, 48, 64, 71, 75, 78, 82, 86, 89, 86, 82],
  [5, 12, 17, 21, 23, 30, 37, 41, 44, 46, 50, 51, 53],
  [1, 1, 2, 3, 5, 5, 7, 8, 10, 12, 14, 15, 17],
];

const modelSeries = [AT_model, BE_model, CZ_model, DE_model, DK_model, EE_model, ES_model, FR_model, GR_model, HR_model, HU_model, IE_model, IT_model, LU_model, NL_model, PL_model, PT_model, SE_model, SI_model];
const eurostatSeries = [AT_eurostat, BE_eurostat, CZ_eurostat, DE_eurostat, DK_eurostat, EE_eurostat, ES_eurostat, FR_eurostat, GR_eurostat, HR_eurostat, HU_eurostat, IE_eurostat, IT_eurostat, LU_eurostat, NL_eurostat, PL_eurostat, PT_eurostat, SE_eurostat, SI_eurostat];

// ---------------- layout / style ----------------
const FONT = '"Liberation Sans", Arial, Helvetica, sans-serif';
const ORANGE = '#F28E2B';
const BLUE = '#4E79A7';
const GRID = '#ebebeb';
const SEP = '#cfcfcf';
const ROW_TOP = 31;
const ROW_H = 70;
const COL_LEFT = 216;
const COL_W = 81;
const AXIS_W = 96;
const PAD_TOP = 2;
const PAD_BOTTOM = 4;
const PLOT_H = ROW_H - PAD_TOP - PAD_BOTTOM;
const XAXIS_H = 60;

function tickText(r: number, v: number): string {
  return axisUnit[r] === 'M' ? `${v / 1000}M` : `${v}K`;
}
// vertical shift for labels that would leave the pane (kept inside like the original)
function labelShift(r: number, v: number): number {
  if (v === 0) return -7;
  const pos = PAD_TOP + ((axisMax[r] - v) / axisMax[r]) * PLOT_H;
  return pos < 12 ? 12 - pos : 0;
}

function noPadding(s: any) {
  s.paddingLeft = 0;
  s.paddingRight = 0;
  s.paddingTop = 0;
  s.paddingBottom = 0;
}

const zeroLinePlugin = {
  id: 'zeroLine',
  beforeDatasetsDraw(chart: any) {
    const { ctx, chartArea, scales } = chart;
    const y = Math.round(scales.y.getPixelForValue(0)) + 0.5;
    ctx.save();
    ctx.strokeStyle = '#bcbcbc';
    ctx.lineWidth = 1;
    ctx.setLineDash([2, 2]);
    ctx.beginPath();
    ctx.moveTo(chartArea.left, y);
    ctx.lineTo(chartArea.right, y);
    ctx.stroke();
    ctx.restore();
  },
};

function makeConfig(r: number, c: number, first: boolean, bottom: boolean): any {
  const model = modelSeries[r][c];
  const euro = eurostatSeries[r][c];
  const lineStyle = { borderWidth: 3.3, pointRadius: 0, tension: 0, borderJoinStyle: 'round', borderCapStyle: 'round', clip: false };
  return {
    type: 'line',
    data: {
      datasets: [
        { label: seriesNames[0], data: years.map((y, i) => ({ x: y, y: model[i] })), borderColor: ORANGE, backgroundColor: ORANGE, ...lineStyle },
        { label: seriesNames[1], data: years.map((y, i) => ({ x: y, y: euro[i] })), borderColor: BLUE, backgroundColor: BLUE, ...lineStyle },
      ],
    },
    options: {
      animation: false,
      responsive: false,
      maintainAspectRatio: false,
      devicePixelRatio: 1,
      events: [],
      layout: { autoPadding: false, padding: { top: PAD_TOP, bottom: bottom ? 0 : PAD_BOTTOM, left: 0, right: 0 } },
      plugins: { legend: { display: false }, tooltip: { enabled: false } },
      scales: {
        x: {
          type: 'linear',
          min: 2010,
          max: 2080,
          afterBuildTicks: (s: any) => { s.ticks = xTickYears.map((v) => ({ value: v })); },
          afterFit: (s: any) => { s.height = bottom ? XAXIS_H : 0; noPadding(s); },
          grid: { color: GRID, lineWidth: 1, drawTicks: false },
          border: { display: false },
          ticks: {
            display: bottom,
            autoSkip: false,
            minRotation: 90,
            maxRotation: 90,
            padding: 9,
            labelOffset: 4,
            color: '#666',
            font: { family: FONT, size: 20 },
            callback: (v: any) => String(v),
          },
        },
        y: {
          min: 0,
          max: axisMax[r],
          afterBuildTicks: (s: any) => {
            const t: any[] = [];
            for (let v = 0; v <= axisMax[r] + 1e-9; v += axisStep[r]) t.push({ value: v });
            s.ticks = t;
          },
          afterFit: (s: any) => { s.width = first ? AXIS_W : 0; noPadding(s); },
          grid: { color: (ctx: any) => (ctx.tick && ctx.tick.value === 0 ? 'rgba(0,0,0,0)' : GRID), lineWidth: 1, drawTicks: false },
          border: { display: false },
          ticks: {
            display: first,
            autoSkip: false,
            padding: 9,
            color: '#666',
            font: (ctx: any) => {
              const s = ctx.tick ? Math.abs(labelShift(r, ctx.tick.value)) : 0;
              return { family: FONT, size: 20, lineHeight: s > 0 ? `${2 * s}px` : 1.2 };
            },
            callback: function (value: any, index: number, ticks: any[]) {
              if (!(index === 0 || index === ticks.length - 1)) return '';
              const s = labelShift(r, value);
              const t = tickText(r, value);
              if (s < 0) return [t, ''];
              if (s > 0) return ['', t];
              return t;
            },
          },
        },
      },
    },
    plugins: [zeroLinePlugin],
  };
}

function Panel({ r, c }: { r: number; c: number }) {
  const ref = useRef<HTMLCanvasElement | null>(null);
  const first = c === 0;
  const bottom = r === countries.length - 1;
  const w = COL_W + (first ? AXIS_W : 0);
  const h = bottom ? ROW_H - PAD_BOTTOM + XAXIS_H : ROW_H;
  useEffect(() => {
    if (!ref.current) return;
    const chart = new Chart(ref.current, makeConfig(r, c, first, bottom));
    return () => chart.destroy();
  }, [r, c, first, bottom]);
  return (
    <canvas
      ref={ref}
      width={w}
      height={h}
      style={{ position: 'absolute', left: COL_LEFT + c * COL_W - (first ? AXIS_W : 0), top: ROW_TOP + r * ROW_H, width: w, height: h }}
    />
  );
}

export default function App() {
  const nRows = countries.length;
  const panels: any[] = [];
  for (let r = 0; r < nRows; r++) {
    for (let c = 0; c < ageGroups.length; c++) panels.push(<Panel key={`${r}-${c}`} r={r} c={c} />);
  }
  const hLines: any[] = [];
  for (let r = 0; r <= nRows; r++) {
    hLines.push(<div key={`h${r}`} style={{ position: 'absolute', left: 5, width: 1024, top: ROW_TOP + r * ROW_H, height: 1, background: SEP }} />);
  }
  const vLines: any[] = [];
  for (let c = 0; c <= ageGroups.length; c++) {
    vLines.push(<div key={`v${c}`} style={{ position: 'absolute', left: COL_LEFT + c * COL_W, top: 5, width: 1, height: 1413, background: SEP }} />);
  }
  return (
    <div style={{ position: 'absolute', left: 0, top: 0, width: 1024, height: 1458, overflow: 'hidden', background: '#fff', fontFamily: FONT }}>
      {ageGroups.map((g, c) => (
        <div key={g} style={{ position: 'absolute', left: COL_LEFT + c * COL_W, width: COL_W, top: 5, height: 26, lineHeight: '26px', textAlign: 'center', fontSize: 20, color: '#555' }}>{g}</div>
      ))}
      {countries.map((k, r) => (
        <div key={k} style={{ position: 'absolute', left: 14, top: ROW_TOP + r * ROW_H, height: ROW_H, lineHeight: `${ROW_H}px`, fontSize: 19, color: '#555' }}>{k}</div>
      ))}
      {panels}
      {hLines}
      {vLines}
      <div style={{ position: 'absolute', left: 10, top: 1433, width: 17, height: 19, background: ORANGE }} />
      <div style={{ position: 'absolute', left: 34, top: 1430, height: 26, lineHeight: '26px', fontSize: 20, color: '#333' }}>{seriesNames[0]}</div>
      <div style={{ position: 'absolute', left: 340, top: 1433, width: 17, height: 19, background: BLUE }} />
      <div style={{ position: 'absolute', left: 365, top: 1430, height: 26, lineHeight: '26px', fontSize: 20, color: '#333' }}>{seriesNames[1]}</div>
    </div>
  );
}
